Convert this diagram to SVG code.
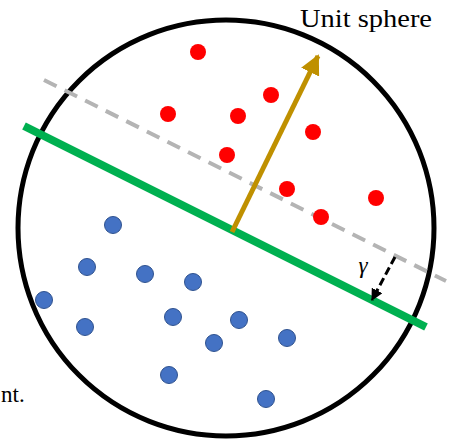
<svg xmlns="http://www.w3.org/2000/svg" width="456" height="439" viewBox="0 0 456 439">
  <defs>
    <style>
      .red { fill: #ff0000; }
      .blue { fill: #4472c4; stroke: #2f528f; stroke-width: 1; }
      .lbl { font-family: "Liberation Serif", "DejaVu Serif", serif; fill: #000; }
    </style>
    <marker id="goldHead" viewBox="0 0 10 10" refX="9" refY="5" markerWidth="4" markerHeight="4" orient="auto" markerUnits="strokeWidth">
      <path d="M0,0 L10,5 L0,10 z" fill="#bf9000"/>
    </marker>
    <marker id="blackHead" viewBox="0 0 10 10" refX="9" refY="5" markerWidth="4" markerHeight="4" orient="auto" markerUnits="strokeWidth">
      <path d="M0,0 L10,5 L0,10 z" fill="#000"/>
    </marker>
  </defs>
  <rect width="456" height="439" fill="#ffffff"/>
  <g id="sphere">
    <circle cx="226" cy="228" r="208" fill="none" stroke="#000" stroke-width="5"/>
  </g>
  <g id="connectors">
    <line x1="44" y1="80" x2="446" y2="281" stroke="#b4b4b4" stroke-width="4" stroke-dasharray="14,9"/>
    <line x1="24" y1="126" x2="426" y2="327" stroke="#00b050" stroke-width="8"/>
    <line x1="232" y1="232" x2="318" y2="56" stroke="#bf9000" stroke-width="5" marker-end="url(#goldHead)"/>
    <line x1="395" y1="257" x2="372" y2="300" stroke="#000" stroke-width="3" stroke-dasharray="8,4" marker-end="url(#blackHead)"/>
  </g>
  <g id="red-points">
    <circle class="red" cx="198" cy="52" r="8"/>
    <circle class="red" cx="271" cy="95" r="8"/>
    <circle class="red" cx="168" cy="114" r="8"/>
    <circle class="red" cx="238" cy="116" r="8"/>
    <circle class="red" cx="313" cy="132" r="8"/>
    <circle class="red" cx="227" cy="155" r="8"/>
    <circle class="red" cx="287" cy="189" r="8"/>
    <circle class="red" cx="376" cy="198" r="8"/>
    <circle class="red" cx="321" cy="217" r="8"/>
  </g>
  <g id="blue-points">
    <circle class="blue" cx="113" cy="225" r="8.5"/>
    <circle class="blue" cx="87" cy="267" r="8.5"/>
    <circle class="blue" cx="145" cy="274" r="8.5"/>
    <circle class="blue" cx="193" cy="282" r="8.5"/>
    <circle class="blue" cx="44" cy="300" r="8.5"/>
    <circle class="blue" cx="173" cy="317" r="8.5"/>
    <circle class="blue" cx="85" cy="327" r="8.5"/>
    <circle class="blue" cx="239" cy="320" r="8.5"/>
    <circle class="blue" cx="214" cy="343" r="8.5"/>
    <circle class="blue" cx="287" cy="338" r="8.5"/>
    <circle class="blue" cx="169" cy="375" r="8.5"/>
    <circle class="blue" cx="266" cy="399" r="8.5"/>
  </g>
  <g id="labels">
    <text class="lbl" x="300" y="27" font-size="25" textLength="132" lengthAdjust="spacingAndGlyphs">Unit sphere</text>
    <text class="lbl" x="363" y="273" font-size="23" font-style="italic" text-anchor="middle">γ</text>
    <text class="lbl" x="1" y="402" font-size="23">nt.</text>
  </g>
</svg>
